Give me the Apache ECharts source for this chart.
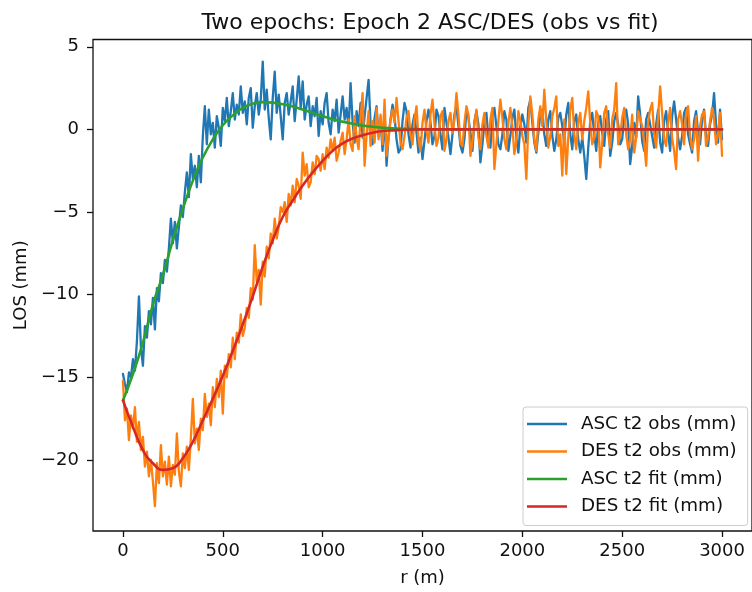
<!DOCTYPE html>
<html>
<head>
<meta charset="utf-8">
<script src="https://cdn.jsdelivr.net/npm/echarts@6/dist/echarts.min.js"></script>
<style>
  html, body { margin: 0; padding: 0; background: #fff; }
  #chart { width: 752px; height: 592px; }
</style>
</head>
<body>
<div id="chart"></div>
<script>
// Line-of-sight displacement along the profile, epoch 2.
// Observations are sampled every 10 m, fitted model every 50 m.
const OBS_STEP = 10;
const FIT_STEP = 50;

const xTicks = [0, 500, 1000, 1500, 2000, 2500, 3000];
const yTicks = [-20, -15, -10, -5, 0, 5];

const seriesNames = ['ASC t2 obs (mm)', 'DES t2 obs (mm)', 'ASC t2 fit (mm)', 'DES t2 fit (mm)'];

// ascending track, observed (mm)
const ascObs = [
  -14.8, -15.4, -15.9, -14.7, -15.0, -13.9, -14.6, -12.8, -10.1, -13.2,
  -14.3, -11.9, -12.6, -11.0, -11.8, -10.2, -12.1, -9.6, -10.4, -8.7,
  -9.3, -7.9, -8.6, -7.2, -5.4, -6.9, -5.6, -7.2, -5.9, -4.6,
  -5.3, -3.8, -2.6, -4.1, -1.5, -3.0, -2.2, -3.5, -1.6, -3.2,
  -0.4, 1.4, -0.9, 1.2, -0.3, 0.4, -1.1, 0.8, 0.1, -1.0,
  1.3, 0.5, 1.9, 0.2, 1.1, 2.2, 0.6, 1.5, 0.9, 2.6,
  1.0, 1.7, 0.3, 1.9, 2.5, 0.1, 1.4, 2.2, 0.9, 1.8,
  4.1, 1.2, 2.4, 0.7, -0.6, 1.9, 3.5, 1.0, 2.1, 0.8,
  -0.6, 1.6, 2.2, 0.9, 1.7, 2.6, 0.5, 1.8, 3.2, 1.3,
  2.9, 0.6, 1.5, 2.0, 0.2, 1.4, 0.8, 1.9, -0.4, 1.1,
  0.3, 1.6, 2.2, 0.4, -0.3, 1.2, 0.5, 1.8, -0.2, 0.9,
  2.0, 0.6, 1.3, 0.0, 2.8, 0.4, -0.8, 1.1, 0.2, 1.6,
  -0.5, 0.8, 1.9, 3.0, 0.3, -0.9, 0.7, 1.4, -0.4, 0.6,
  -1.3, 0.9, -2.2, -0.4, 0.6, 1.5, 0.8, -0.6, -1.4, -1.2,
  0.5, 1.6, 1.1, -0.3, -1.1, 0.3, 0.9, -0.2, -1.4, -0.5,
  -1.8, -0.7, 0.5, 1.2, 0.4, -0.9, -0.4, 1.2, 0.8, -0.3,
  -1.2, 1.3, 0.4, -0.5, -1.5, -0.3, 0.9, 1.4, 0.2, -1.0,
  -1.4, -0.6, 1.2, 0.7, -0.2, -1.3, 0.5, 1.1, 0.3, -2.0,
  -0.9, 0.4, 1.0, -0.6, -1.1, 0.8, 1.3, 0.2, -0.9, -1.2,
  -0.3, 1.1, 0.6, -1.3, -0.4, 0.7, 1.2, -0.5, -1.4, 0.2,
  0.9, 0.3, -0.8, 1.3, 1.8, 0.4, -0.8, -1.4, -0.2, 0.9,
  1.2, -0.3, -1.0, 0.6, 1.1, -0.4, -1.3, -0.6, 0.7, 1.0,
  0.2, -0.8, 0.9, 1.6, -0.3, -1.2, 0.5, 0.9, -0.6, -1.4,
  -0.5, -1.6, -3.0, -1.1, 0.5, 1.0, -0.3, -1.3, 0.4, 0.8,
  -0.2, -1.0, 0.6, 1.1, -1.6, -0.8, 0.5, 1.0, 0.3, -0.9,
  -0.6, 0.8, 1.2, 0.3, -2.1, -1.0, 0.4, -0.5, 2.0, 0.9,
  -0.7, -1.3, 0.6, 1.0, 0.3, -0.4, -1.1, 0.3, 1.2, -0.8,
  -1.4, 0.5, 1.1, -0.2, -1.3, 0.8, 1.7, 0.6, -0.5, -1.2,
  -0.4, 1.0, 1.3, -0.3, -0.9, -1.4, 0.5, 1.1, -0.2, -0.9,
  0.6, 1.2, -0.4, -1.0, 0.3, 0.9, 2.2, 0.3, -0.8, 1.2,
  -0.6
];

// descending track, observed (mm)
const desObs = [
  -15.2, -17.6, -16.9, -18.8, -17.3, -18.1, -16.8, -18.9, -17.7, -19.4,
  -18.6, -20.4, -19.5, -21.0, -20.0, -21.3, -22.8, -20.2, -21.4, -19.1,
  -21.0, -20.1, -21.5, -19.8, -21.6, -20.3, -20.9, -18.4, -20.7, -21.6,
  -19.6, -20.5, -19.2, -20.6, -18.7, -16.3, -19.0, -18.1, -19.4, -17.5,
  -18.2, -16.0, -17.4, -16.6, -17.9, -15.6, -16.8, -15.1, -16.2, -14.6,
  -17.2, -14.3, -15.0, -13.6, -14.4, -12.6, -13.9, -12.3, -12.9, -11.2,
  -12.5, -12.0, -10.8, -11.4, -9.6, -10.3, -7.0, -9.2, -8.5, -10.6,
  -8.0, -8.9, -7.1, -7.8, -6.3, -6.9, -5.4, -6.6, -5.9, -4.7,
  -5.0, -4.4, -5.6, -3.9, -4.6, -3.4, -4.4, -3.0, -3.4, -4.2,
  -1.4, -2.8, -2.1, -3.5, -3.2, -2.0, -2.7, -1.6, -1.8, -2.5,
  -1.5, -2.4, -1.1, -1.7, -0.6, -1.3, -0.5, -1.9, -1.4, -0.7,
  -0.2, -1.5, -0.6, 0.6, -0.9, -1.3, 0.8, -0.5, -1.2, 0.7,
  2.2, -2.2, -0.3, 1.1, -1.0, 0.5, -0.8, 1.3, -0.6, 0.9,
  -0.9, 1.8, -1.6, -0.6, 0.6, 1.2, 0.4, 1.9, 0.5, -0.8,
  -1.2, -0.4, 0.7, 1.1, -0.3, -0.9, 0.6, 1.4, -0.6, -1.3,
  0.4, 1.2, -0.1, -0.8, 0.9, 1.8, 0.3, -1.0, -0.5, 0.8,
  1.1, -1.3, -0.6, 0.5, 1.0, -0.2, 0.6, 2.2, 0.9, -0.8,
  -1.0, 0.4, 1.4, 0.9, -1.6, -0.7, 0.3, 1.2, -0.5, -1.2,
  0.3, 1.0, -0.4, -1.1, 0.6, 1.3, -2.4, -0.9, 0.5, 1.8,
  0.7, -0.6, -1.2, 0.4, 1.3, 0.2, -1.5, -0.7, 1.1, 0.5,
  -0.4, -0.9, -3.0, 0.3, 2.0, 0.9, -0.6, -1.3, 0.6, 1.4,
  0.2, 2.4, 0.5, -1.1, -0.4, 0.8, 1.3, 2.0, -1.0, -0.3,
  -2.8, 0.6, -2.7, -0.5, 1.2, 1.9, -0.3, -1.2, 0.4, 1.0,
  -0.6, 0.5, 1.3, 2.3, 0.4, -0.9, -0.5, 1.1, 0.8, -2.3,
  -0.8, 1.0, 1.4, -0.3, -1.1, 0.6, 1.2, 2.8, -0.9, -0.4,
  0.7, 1.3, -0.3, -1.2, -0.6, 0.9, -1.4, -0.5, 1.1, 1.0,
  0.2, -0.8, -2.2, 0.5, 1.2, 1.6, -0.3, -1.1, 0.8, 2.6,
  1.0, -0.6, -1.0, 0.4, 1.3, -0.5, -1.3, -2.4, 0.6, 1.1,
  0.3, -0.9, 1.0, 1.4, -0.4, -1.2, -0.6, 0.8, -1.9, 0.2,
  0.9, 1.1, -1.0, -0.5, 0.5, 1.3, 0.6, -0.9, -0.3, 1.0,
  -1.6
];

// fitted model, ascending (mm)
const ascFit = [
  -16.4, -14.8, -12.9, -10.6, -8.8, -6.7, -4.8, -3.1, -1.7, -0.6,
  0.25, 0.85, 1.3, 1.55, 1.65, 1.62, 1.52, 1.38, 1.2, 1.0,
  0.8, 0.62, 0.47, 0.34, 0.24, 0.16, 0.1, 0.06, 0.04, 0.02,
  0.01, 0, 0, 0, 0, 0, 0, 0, 0, 0,
  0, 0, 0, 0, 0, 0, 0, 0, 0, 0,
  0, 0, 0, 0, 0, 0, 0, 0, 0, 0,
  0
];

// fitted model, descending (mm)
const desFit = [
  -16.4, -18.0, -19.4, -20.2, -20.6, -20.5, -19.9, -18.9, -17.6, -16.3,
  -14.9, -13.4, -11.8, -10.1, -8.3, -6.7, -5.3, -4.3, -3.4, -2.6,
  -1.9, -1.3, -0.85, -0.55, -0.35, -0.2, -0.1, -0.06, -0.03, -0.01,
  0, 0, 0, 0, 0, 0, 0, 0, 0, 0,
  0, 0, 0, 0, 0, 0, 0, 0, 0, 0,
  0, 0, 0, 0, 0, 0, 0, 0, 0, 0,
  0
];

const colors = ['#1f77b4', '#ff7f0e', '#2ca02c', '#d62728'];
const FONT = 'DejaVu Sans';

const pairs = (vals, step) => vals.map((v, i) => [i * step, v]);
const minus = v => (v < 0 ? '\u2212' + Math.abs(v) : String(v));

const chart = echarts.init(document.getElementById('chart'), null, { renderer: 'canvas' });

const lineSeries = (name, vals, step, color, width) => ({
  name,
  type: 'line',
  data: pairs(vals, step),
  showSymbol: false,
  symbol: 'none',
  smooth: step === FIT_STEP,
  lineStyle: { color, width, join: 'round', cap: 'round' },
  itemStyle: { color },
  emphasis: { disabled: true },
  z: 2
});

const tickStyle = { color: '#111', width: 1.3 };

chart.setOption({
  animation: false,
  backgroundColor: '#fff',
  title: {
    text: 'Two epochs: Epoch 2 ASC/DES (obs vs fit)',
    left: 425,
    textAlign: 'center',
    top: 7,
    textStyle: { fontFamily: FONT, fontSize: 22, fontWeight: 'normal', color: '#111' }
  },
  grid: {
    left: 93, right: -4, top: 39.5, bottom: 57.5,
    show: true, borderColor: '#111', borderWidth: 1.3, backgroundColor: 'transparent'
  },
  legend: {
    orient: 'vertical',
    left: 523,
    top: 407,
    padding: [7, 11, 9, 4],
    itemGap: 7.5,
    itemWidth: 40,
    itemHeight: 2.6,
    icon: 'rect',
    backgroundColor: 'rgba(255,255,255,0.8)',
    borderColor: '#cccccc',
    borderWidth: 1,
    borderRadius: 3,
    data: seriesNames,
    textStyle: { fontFamily: FONT, fontSize: 18.3, color: '#111', lineHeight: 20, padding: [0, 0, 0, 9] }
  },
  xAxis: {
    type: 'value',
    min: -150,
    max: 3150,
    name: 'r (m)',
    nameLocation: 'middle',
    nameGap: 38,
    nameTextStyle: { fontFamily: FONT, fontSize: 18, color: '#111' },
    splitLine: { show: false },
    axisLine: { show: false, onZero: false },
    axisTick: { show: true, length: 6, lineStyle: tickStyle, customValues: xTicks },
    axisLabel: {
      customValues: xTicks,
      margin: 11,
      fontFamily: FONT, fontSize: 18, color: '#111',
      formatter: minus
    }
  },
  yAxis: {
    type: 'value',
    min: -24.3,
    max: 5.44,
    name: 'LOS (mm)',
    nameLocation: 'middle',
    nameGap: 59,
    nameRotate: 90,
    nameTextStyle: { fontFamily: FONT, fontSize: 18, color: '#111' },
    splitLine: { show: false },
    axisLine: { show: false, onZero: false },
    axisTick: { show: true, length: 6, lineStyle: tickStyle, customValues: yTicks },
    axisLabel: {
      customValues: yTicks,
      margin: 14,
      fontFamily: FONT, fontSize: 18, color: '#111',
      formatter: minus
    }
  },
  series: [
    lineSeries(seriesNames[0], ascObs, OBS_STEP, colors[0], 2.3),
    lineSeries(seriesNames[1], desObs, OBS_STEP, colors[1], 2.3),
    lineSeries(seriesNames[2], ascFit, FIT_STEP, colors[2], 2.6),
    lineSeries(seriesNames[3], desFit, FIT_STEP, colors[3], 2.6)
  ]
});
</script>
</body>
</html>
